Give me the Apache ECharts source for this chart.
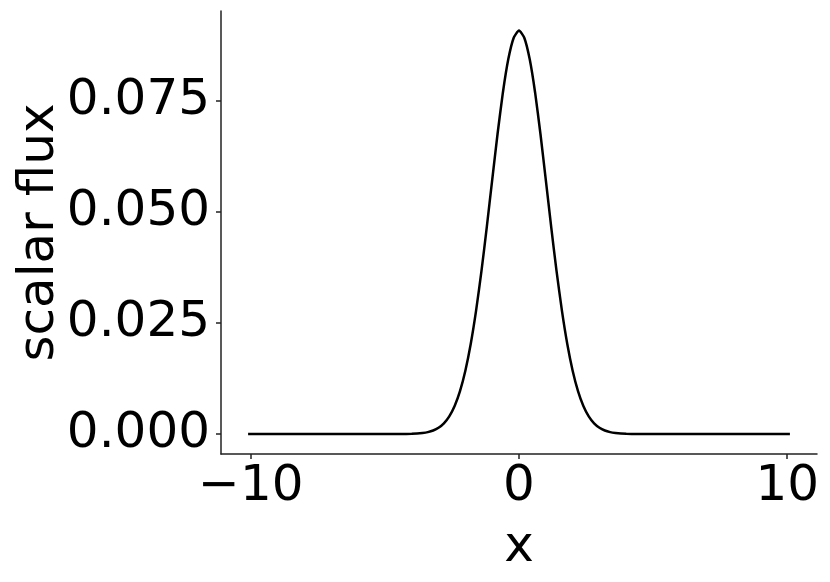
<!DOCTYPE html>
<html>
<head>
<meta charset="utf-8">
<script src="https://cdn.jsdelivr.net/npm/echarts@6/dist/echarts.min.js"></script>
<style>
  html, body { margin: 0; padding: 0; background: #fff; }
  #scalarFlux { width: 830px; height: 582px; }
</style>
</head>
<body>
<div id="scalarFlux"></div>
<script>
// positions along x
const xs = [
  -10.1, -8, -6, -5, -4.4, -4.0, -3.8, -3.6, -3.4, -3.2, -3.0, -2.8, -2.6, -2.4, -2.2, -2.0,
  -1.8, -1.6, -1.4, -1.2, -1.0, -0.8, -0.6, -0.4, -0.2, 0,
  0.2, 0.4, 0.6, 0.8, 1.0, 1.2, 1.4, 1.6, 1.8, 2.0, 2.2, 2.4, 2.6, 2.8,
  3.0, 3.2, 3.4, 3.6, 3.8, 4.0, 4.4, 5, 6, 8, 10.1
]
// scalar flux at each position
const flux = [
  0, 0, 0, 0, 0.00001, 0.00006, 0.00011, 0.00023, 0.00043, 0.00079, 0.00141, 0.00241, 0.00398, 0.00632, 0.00967, 0.01427,
  0.02028, 0.02779, 0.03668, 0.04667, 0.05721, 0.06759, 0.07695, 0.08441, 0.08923, 0.0909,
  0.08923, 0.08441, 0.07695, 0.06759, 0.05721, 0.04667, 0.03668, 0.02779, 0.02028, 0.01427, 0.00967, 0.00632, 0.00398, 0.00241,
  0.00141, 0.00079, 0.00043, 0.00023, 0.00011, 0.00006, 0.00001, 0, 0, 0, 0
]
const xTicks = [-10, 0, 10]
const yTicks = [0, 0.025, 0.05, 0.075]

const chart = echarts.init(document.getElementById('scalarFlux'))
const fontFamily = 'DejaVu Sans'

const option = {
  animation: false,
  grid: { left: 221, right: 13, top: 11, bottom: 128, outerBoundsMode: 'none' },
  xAxis: {
    type: 'value',
    min: -11.11,
    max: 11.11,
    name: 'x',
    nameLocation: 'middle',
    nameGap: 69,
    nameMoveOverlap: false,
    nameTextStyle: { fontFamily: fontFamily, fontSize: 50, color: '#000' },
    splitLine: { show: false },
    axisLine: { onZero: false, lineStyle: { color: '#222', width: 1.5 } },
    axisTick: { customValues: xTicks, length: 5, lineStyle: { color: '#222', width: 1.5 } },
    axisLabel: {
      customValues: xTicks,
      margin: 8,
      fontFamily: fontFamily,
      fontSize: 50,
      color: '#000',
      formatter: v => (v < 0 ? '\u2212' + Math.abs(v) : String(v))
    }
  },
  yAxis: {
    type: 'value',
    min: -0.0045,
    max: 0.0953,
    name: 'scalar flux',
    nameLocation: 'middle',
    nameRotate: 90,
    nameGap: 156,
    nameMoveOverlap: false,
    nameTextStyle: { fontFamily: fontFamily, fontSize: 50, color: '#000' },
    splitLine: { show: false },
    axisLine: { show: true, onZero: false, lineStyle: { color: '#222', width: 1.5 } },
    axisTick: { show: true, customValues: yTicks, length: 5, lineStyle: { color: '#222', width: 1.5 } },
    axisLabel: {
      customValues: yTicks,
      margin: 11,
      fontFamily: fontFamily,
      fontSize: 50,
      color: '#000',
      formatter: v => v.toFixed(3)
    }
  },
  series: [{
    type: 'line',
    data: xs.map((x, i) => [x, flux[i]]),
    showSymbol: false,
    smooth: 0.2,
    lineStyle: { color: '#000', width: 2.5 }
  }]
}
chart.setOption(option)
</script>
</body>
</html>
